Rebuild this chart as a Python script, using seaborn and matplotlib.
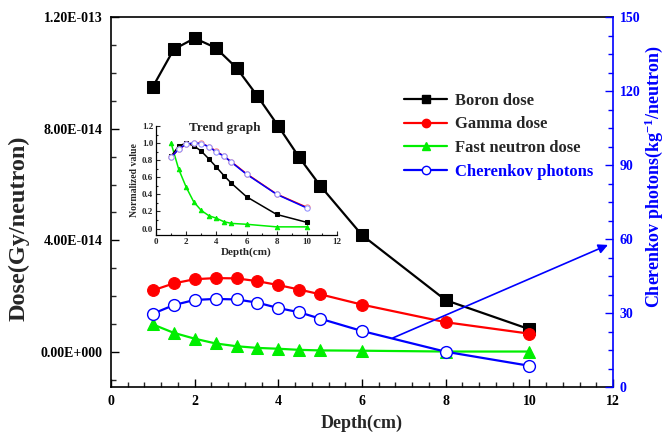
import numpy as np
import pandas as pd
import seaborn as sns
import matplotlib
matplotlib.use("Agg")
import matplotlib.pyplot as plt
from matplotlib.ticker import MultipleLocator, FixedLocator, FixedFormatter
from matplotlib.lines import Line2D

# ---- data ----
depth = [1, 1.5, 2, 2.5, 3, 3.5, 4, 4.5, 5, 6, 8, 10]
boron = [9.50e-14, 10.84e-14, 11.24e-14, 10.90e-14, 10.18e-14, 9.17e-14, 8.09e-14,
         6.97e-14, 5.96e-14, 4.19e-14, 1.86e-14, 0.82e-14]
gamma = [2.21e-14, 2.46e-14, 2.61e-14, 2.65e-14, 2.64e-14, 2.54e-14, 2.40e-14,
         2.24e-14, 2.07e-14, 1.70e-14, 1.07e-14, 0.66e-14]
fast = [0.99e-14, 0.69e-14, 0.48e-14, 0.31e-14, 0.21e-14, 0.15e-14, 0.12e-14,
        0.08e-14, 0.06e-14, 0.05e-14, 0.02e-14, 0.02e-14]
cherenkov = [29.7, 33.2, 35.3, 35.7, 35.5, 34.2, 32.0, 30.3, 27.7, 22.7, 14.3, 8.6]

left_ticks = [0, 4e-14, 8e-14, 1.2e-13]
left_labels = ["0.00E+000", "4.00E-014", "8.00E-014", "1.20E-013"]
right_ticks = [0, 30, 60, 90, 120, 150]
x_ticks = [0, 2, 4, 6, 8, 10, 12]

df = pd.DataFrame({"depth": depth, "boron": boron, "gamma": gamma,
                   "fast": fast, "cherenkov": cherenkov})
norm = pd.DataFrame({"depth": depth,
                     "boron": np.array(boron) / max(boron),
                     "gamma": np.array(gamma) / max(gamma),
                     "fast": np.array(fast) / max(fast),
                     "cherenkov": np.array(cherenkov) / max(cherenkov)})

sns.set_theme(style="ticks")
plt.rcParams["font.family"] = ["Liberation Serif", "DejaVu Serif"]
plt.rcParams["font.weight"] = "bold"
plt.rcParams["axes.labelweight"] = "bold"
plt.rcParams["mathtext.fontset"] = "custom"
plt.rcParams["mathtext.rm"] = "Liberation Serif:bold"
plt.rcParams["mathtext.default"] = "rm"

BLUE = "#0000ff"
RED = "#ff0000"
GREEN = "#00ee00"

fig = plt.figure(figsize=(6.65, 4.43), dpi=100)
ax = fig.add_axes([111/665, 1-387/443, 502/665, 370/443])
ax2 = ax.twinx()

lw = 1.6
sns.lineplot(data=df, x="depth", y="boron", ax=ax, color="black", marker="s",
             markersize=8.5, markeredgecolor="black", linewidth=lw, zorder=3)
sns.lineplot(data=df, x="depth", y="gamma", ax=ax, color=RED, marker="o",
             markersize=8.5, markeredgecolor=RED, linewidth=lw, zorder=3)
sns.lineplot(data=df, x="depth", y="fast", ax=ax, color=GREEN, marker="^",
             markersize=8.5, markeredgecolor=GREEN, linewidth=lw, zorder=3)
sns.lineplot(data=df, x="depth", y="cherenkov", ax=ax2, color=BLUE, marker="o",
             markersize=8.5, markerfacecolor="white", markeredgecolor=BLUE,
             markeredgewidth=1.0, linewidth=lw, zorder=3)

ax.set_xlim(0, 12)
ax.set_ylim(-1.25e-14, 1.2e-13)
ax2.set_ylim(0, 150)

ax.xaxis.set_major_locator(FixedLocator(x_ticks))
ax.xaxis.set_minor_locator(MultipleLocator(0.4))
ax.yaxis.set_major_locator(FixedLocator(left_ticks))
ax.yaxis.set_major_formatter(FixedFormatter(left_labels))
ax.yaxis.set_minor_locator(MultipleLocator(1e-14))
ax2.yaxis.set_major_locator(FixedLocator(right_ticks))
ax2.yaxis.set_minor_locator(MultipleLocator(7.5))

ax.tick_params(axis="both", which="major", direction="in", length=6, width=1,
               labelsize=10, colors="black", pad=6)
ax.tick_params(axis="both", which="minor", direction="in", length=3.5, width=1)
ax2.tick_params(axis="y", which="major", direction="in", length=6, width=1,
                labelsize=10, colors=BLUE, pad=5)
ax2.tick_params(axis="y", which="minor", direction="in", length=3.5, width=1, colors=BLUE)
for lab in ax.get_xticklabels() + ax.get_yticklabels() + ax2.get_yticklabels():
    lab.set_fontweight("bold")

for s in ["left", "bottom", "top"]:
    ax.spines[s].set_color("black")
    ax.spines[s].set_linewidth(1.2)
ax.spines["right"].set_visible(False)
for s in ["left", "bottom", "top"]:
    ax2.spines[s].set_visible(False)
ax2.spines["right"].set_color(BLUE)
ax2.spines["right"].set_linewidth(1.2)

ax.set_xlabel("Depth(cm)", fontsize=13, fontweight="bold")
ax.xaxis.set_label_coords(0.5, -0.075)
ax.set_ylabel("Dose(Gy/neutron)", fontsize=17.5, fontweight="bold")
ax.yaxis.set_label_coords(-0.163, 0.43)
ax2.set_ylabel("Cherenkov photons(kg$^{-1}$/neutron)", fontsize=13,
               fontweight="bold", color=BLUE)
ax2.yaxis.set_label_coords(1.058, 0.57)

# arrow
ax2.annotate("", xy=(11.88, 57.6), xytext=(6.74, 19.9),
             arrowprops=dict(arrowstyle="-|>", color=BLUE, lw=1.2,
                             mutation_scale=14, shrinkA=0, shrinkB=0))

# legend
handles = [
    Line2D([], [], color="black", marker="s", markersize=6, linewidth=lw),
    Line2D([], [], color=RED, marker="o", markersize=6, linewidth=lw),
    Line2D([], [], color=GREEN, marker="^", markersize=6, linewidth=lw),
    Line2D([], [], color=BLUE, marker="o", markersize=6, markerfacecolor="white",
           linewidth=lw),
]
labels = ["Boron dose", "Gamma dose", "Fast neutron dose", "Cherenkov photons"]
leg = fig.legend(handles, labels, loc="upper left",
                 bbox_to_anchor=(404/665, 1-93/443), frameon=False,
                 fontsize=12, handlelength=2.6, handletextpad=0.45,
                 labelspacing=0.45, borderaxespad=0, borderpad=0)
for t in leg.get_texts():
    t.set_fontweight("bold")
leg.get_texts()[3].set_color(BLUE)

# inset
axi = fig.add_axes([156/665, 1-235/443, 181/665, 109/443])
axi.patch.set_alpha(0)
ms = 3.2
sns.lineplot(data=norm, x="depth", y="fast", ax=axi, color=GREEN, marker="^",
             markersize=ms, markeredgecolor=GREEN, linewidth=1.1)
sns.lineplot(data=norm, x="depth", y="boron", ax=axi, color="black", marker="s",
             markersize=ms, markeredgecolor="black", linewidth=1.1)
sns.lineplot(data=norm, x="depth", y="gamma", ax=axi, color=RED, marker="o",
             markersize=ms+0.6, markerfacecolor="white", markeredgecolor="#ff8080",
             linewidth=1.1)
sns.lineplot(data=norm, x="depth", y="cherenkov", ax=axi, color=BLUE, marker="o",
             markersize=ms+0.6, markerfacecolor="white", markeredgecolor="#9090ff",
             linewidth=1.1)
axi.set_xlim(0, 12)
axi.set_ylim(-0.075, 1.2)
axi.xaxis.set_major_locator(MultipleLocator(2))
axi.xaxis.set_minor_locator(MultipleLocator(1))
axi.yaxis.set_major_locator(MultipleLocator(0.2))
axi.yaxis.set_minor_locator(MultipleLocator(0.1))
axi.yaxis.set_major_formatter(matplotlib.ticker.FormatStrFormatter("%.1f"))
axi.tick_params(which="major", direction="in", length=3, width=0.8, labelsize=6.5, pad=2)
axi.tick_params(which="minor", direction="in", length=1.5, width=0.8)
for lab in axi.get_xticklabels() + axi.get_yticklabels():
    lab.set_fontweight("bold")
axi.spines["top"].set_visible(False)
axi.spines["right"].set_visible(False)
for s in ["left", "bottom"]:
    axi.spines[s].set_color("black")
    axi.spines[s].set_linewidth(0.9)
axi.set_xlabel("Depth(cm)", fontsize=8, fontweight="bold", labelpad=1)
axi.set_ylabel("Normalized value", fontsize=7, fontweight="bold", labelpad=2)
axi.text(0.38, 0.985, "Trend graph", transform=axi.transAxes, ha="center",
         va="center", fontsize=9.5, fontweight="bold")

fig.savefig("out.png", dpi=100)
